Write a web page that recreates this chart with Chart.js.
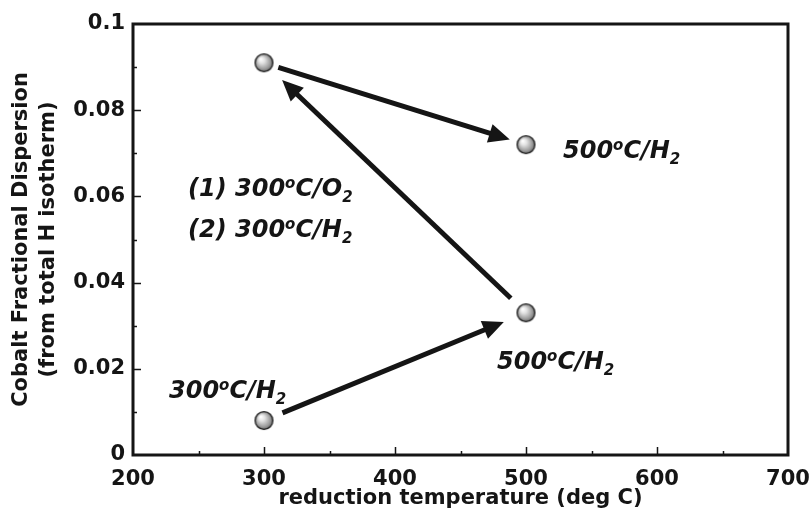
<!DOCTYPE html>
<html>
<head>
<meta charset="utf-8">
<script src="https://cdn.jsdelivr.net/npm/chart.js@4/dist/chart.umd.min.js"></script>
<style>
  html, body { margin: 0; padding: 0; background: #ffffff; }
  canvas { display: block; }
</style>
</head>
<body>
<canvas id="chart" width="812" height="513"></canvas>
<script>
// Reduction sequence: each step is one measurement of cobalt dispersion
const temperature = [300, 500, 300, 500];
const dispersion = [0.008, 0.033, 0.091, 0.072];
// Step labels (^x = superscript, _x = subscript)
const pointLabels = ['300^oC/H_2', '500^oC/H_2', '', '500^oC/H_2'];
// Treatment applied between step 2 and step 3
const noteLines = ['(1) 300^oC/O_2', '(2) 300^oC/H_2'];

// Axis ticks
const xTickValues = [200, 300, 400, 500, 600, 700];
const xMinorValues = [250, 350, 450, 550, 650];
const yTickValues = [0, 0.02, 0.04, 0.06, 0.08, 0.1];
const yTickLabels = ['0', '0.02', '0.04', '0.06', '0.08', '0.1'];
const yMinorValues = [0.01, 0.03, 0.05, 0.07, 0.09];

// Styling / placement
const INK = '#151515';
const FONT = '"DejaVu Sans", "Liberation Sans", Arial, sans-serif';
const style = {
  labelOffsets: [[-95, -23], [-29, 56], null, [37, 13]],   // px from the marker to the label's start/baseline
  noteAnchor: { x: 242, y: 0.0601 },                       // axis units
  noteLineGap: 41,
  arrowStartGap: [20, 21, 15],
  arrowEndGap: [24, 25, 17],
  arrowWidth: 5,
  headLength: 21,
  headHalf: 9.5,
  majorTick: 8,
  minorTick: 4
};

// Shaded sphere used as the marker
function makeSphere(r) {
  const size = 2 * r + 4;
  const cv = document.createElement('canvas');
  cv.width = size; cv.height = size;
  const g = cv.getContext('2d');
  const c = size / 2;
  const grad = g.createRadialGradient(c - r * 0.35, c - r * 0.4, 0.5, c, c, r);
  grad.addColorStop(0, '#ffffff');
  grad.addColorStop(0.3, '#e2e2e2');
  grad.addColorStop(0.75, '#9a9a9a');
  grad.addColorStop(1, '#5c5c5c');
  g.beginPath();
  g.arc(c, c, r - 0.6, 0, Math.PI * 2);
  g.fillStyle = grad;
  g.fill();
  g.lineWidth = 1.3;
  g.strokeStyle = '#1e1e1e';
  g.stroke();
  return cv;
}
const sphere = makeSphere(9.5);

// Text with superscript / subscript pieces
function parseRich(s) {
  const out = [];
  const re = /\^(.)|_(.)|([^^_]+)/g;
  let m;
  while ((m = re.exec(s)) !== null) {
    if (m[1]) out.push({ t: m[1], k: 'sup' });
    else if (m[2]) out.push({ t: m[2], k: 'sub' });
    else out.push({ t: m[3], k: 'n' });
  }
  return out;
}
function drawRich(ctx, s, x, y) {
  ctx.save();
  ctx.fillStyle = INK;
  ctx.textAlign = 'left';
  ctx.textBaseline = 'alphabetic';
  let cx = x;
  for (const p of parseRich(s)) {
    let dy = 0;
    if (p.k === 'n') {
      ctx.font = 'italic bold 24px ' + FONT;
    } else {
      ctx.font = 'italic bold 15px ' + FONT;
      dy = p.k === 'sup' ? -8 : 6;
    }
    ctx.fillText(p.t, cx, y + dy);
    cx += ctx.measureText(p.t).width;
  }
  ctx.restore();
}

function drawArrow(ctx, x1, y1, x2, y2, g1, g2) {
  const dx = x2 - x1, dy = y2 - y1;
  const L = Math.hypot(dx, dy);
  const ux = dx / L, uy = dy / L;
  const sx = x1 + ux * g1, sy = y1 + uy * g1;
  const ex = x2 - ux * g2, ey = y2 - uy * g2;
  const bx = ex - ux * style.headLength, by = ey - uy * style.headLength;
  ctx.save();
  ctx.strokeStyle = INK;
  ctx.fillStyle = INK;
  ctx.lineWidth = style.arrowWidth;
  ctx.lineCap = 'butt';
  ctx.beginPath();
  ctx.moveTo(sx, sy);
  ctx.lineTo(bx + ux * 3, by + uy * 3);
  ctx.stroke();
  ctx.beginPath();
  ctx.moveTo(ex, ey);
  ctx.lineTo(bx - uy * style.headHalf, by + ux * style.headHalf);
  ctx.lineTo(bx + uy * style.headHalf, by - ux * style.headHalf);
  ctx.closePath();
  ctx.fill();
  ctx.restore();
}

const decor = {
  id: 'decor',
  beforeDatasetsDraw(chart) {
    const { ctx, scales: { x, y } } = chart;
    // arrows follow the measurement order
    for (let i = 0; i < temperature.length - 1; i++) {
      drawArrow(ctx,
        x.getPixelForValue(temperature[i]), y.getPixelForValue(dispersion[i]),
        x.getPixelForValue(temperature[i + 1]), y.getPixelForValue(dispersion[i + 1]),
        style.arrowStartGap[i], style.arrowEndGap[i]);
    }
  },
  afterDatasetsDraw(chart) {
    const { ctx, chartArea: a, scales: { x, y } } = chart;
    // step labels
    pointLabels.forEach((lab, i) => {
      const off = style.labelOffsets[i];
      if (!lab || !off) return;
      drawRich(ctx, lab,
        x.getPixelForValue(temperature[i]) + off[0],
        y.getPixelForValue(dispersion[i]) + off[1]);
    });
    // treatment note
    const nx = x.getPixelForValue(style.noteAnchor.x);
    const ny = y.getPixelForValue(style.noteAnchor.y);
    noteLines.forEach((ln, i) => drawRich(ctx, ln, nx, ny + i * style.noteLineGap));

    // frame
    ctx.save();
    ctx.strokeStyle = INK;
    ctx.lineWidth = 3;
    ctx.strokeRect(a.left, a.top, a.right - a.left, a.bottom - a.top);
    // inward tick marks
    ctx.lineWidth = 1.5;
    ctx.beginPath();
    const tickX = (vals, len) => vals.forEach(v => {
      const px = Math.round(x.getPixelForValue(v)) + 0.5;
      ctx.moveTo(px, a.bottom);
      ctx.lineTo(px, a.bottom - len);
    });
    const tickY = (vals, len) => vals.forEach(v => {
      const py = Math.round(y.getPixelForValue(v)) + 0.5;
      ctx.moveTo(a.left, py);
      ctx.lineTo(a.left + len, py);
    });
    tickX(xTickValues.slice(1, -1), style.majorTick);
    tickX(xMinorValues, style.minorTick);
    tickY(yTickValues.slice(1, -1), style.majorTick);
    tickY(yMinorValues, style.minorTick);
    ctx.stroke();
    ctx.restore();
  }
};

new Chart(document.getElementById('chart'), {
  type: 'scatter',
  data: {
    datasets: [{
      data: temperature.map((t, i) => ({ x: t, y: dispersion[i] })),
      pointStyle: sphere,
      pointRadius: 9,
      pointHoverRadius: 9,
      showLine: false
    }]
  },
  options: {
    responsive: false,
    animation: false,
    events: [],
    layout: { padding: { top: 24, right: 24, left: 0, bottom: 0 } },
    plugins: { legend: { display: false }, tooltip: { enabled: false } },
    scales: {
      x: {
        type: 'linear',
        min: 200, max: 700,
        grid: { display: false, drawTicks: false },
        border: { display: false },
        ticks: {
          autoSkip: false, maxRotation: 0, padding: 12, color: INK,
          font: { family: FONT, weight: 'bold', size: 21 }
        },
        afterBuildTicks: s => { s.ticks = xTickValues.map(v => ({ value: v })); },
        afterFit: s => { s.height = 58; s.paddingLeft = 0; s.paddingRight = 0; },
        title: {
          display: true, text: 'reduction temperature (deg C)', color: INK,
          font: { family: FONT, weight: 'bold', size: 21 },
          padding: { top: 0, bottom: 2 }
        }
      },
      y: {
        type: 'linear',
        min: 0, max: 0.1,
        grid: { display: false, drawTicks: false },
        border: { display: false },
        ticks: {
          autoSkip: false, padding: 8, color: INK,
          font: { family: FONT, weight: 'bold', size: 21 },
          callback: (v, i) => yTickLabels[i]
        },
        afterBuildTicks: s => { s.ticks = yTickValues.map(v => ({ value: v })); },
        afterFit: s => { s.width = 133; s.paddingTop = 0; s.paddingBottom = 0; },
        title: {
          display: true,
          text: ['Cobalt Fractional Dispersion', '(from total H isotherm)'],
          color: INK,
          font: { family: FONT, weight: 'bold', size: 21, lineHeight: 1.24 },
          padding: { top: 9, bottom: 0 }
        }
      }
    }
  },
  plugins: [decor]
});
</script>
</body>
</html>
